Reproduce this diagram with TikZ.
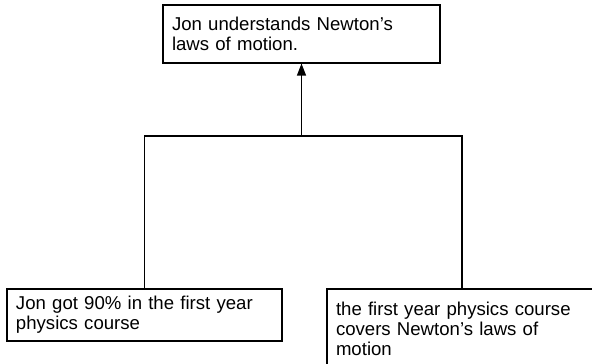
\documentclass[tikz,border=0pt]{standalone}
\usepackage{fontspec}
\setmainfont{Liberation Sans}
\usetikzlibrary{arrows.meta}
\usetikzlibrary{positioning}
\tikzset{
claim/.style={draw,black,line width=1.1pt,align=left,anchor=center,inner xsep=9pt,inner ysep=0pt,font=\fontsize{18.6}{20}\selectfont},
goal/.style={claim,text width=259pt,minimum height=58pt},
premise/.style={claim,text width=257pt,minimum height=52pt},
premise3/.style={claim,text width=252pt,minimum height=80pt},
line/.style={black,line width=1.1pt}
}

\begin{document}
\begin{tikzpicture}[x=1pt,y=1pt]
    \useasboundingbox (0,0) rectangle (592,364);
    \clip (0,0) rectangle (592,364);
    %
    \node[goal](c) at (301.5, 330) {Jon understands Newton’s\\laws of motion.};
    \node[premise](p1) at (144.5, 49) {Jon got 90\% in the first year\\physics course};
    \node[premise3](p2) at (462, 35) {the first year physics course\\covers Newton’s laws of\\motion};
    \coordinate (join) at (301.5, 228);
    %
    \draw[line] (p1.north) |- (join) -| (p2.north);
    \draw[line,-{Triangle[length=12pt,width=9pt]}] (join) -- (c.south);
\end{tikzpicture}
\end{document}
